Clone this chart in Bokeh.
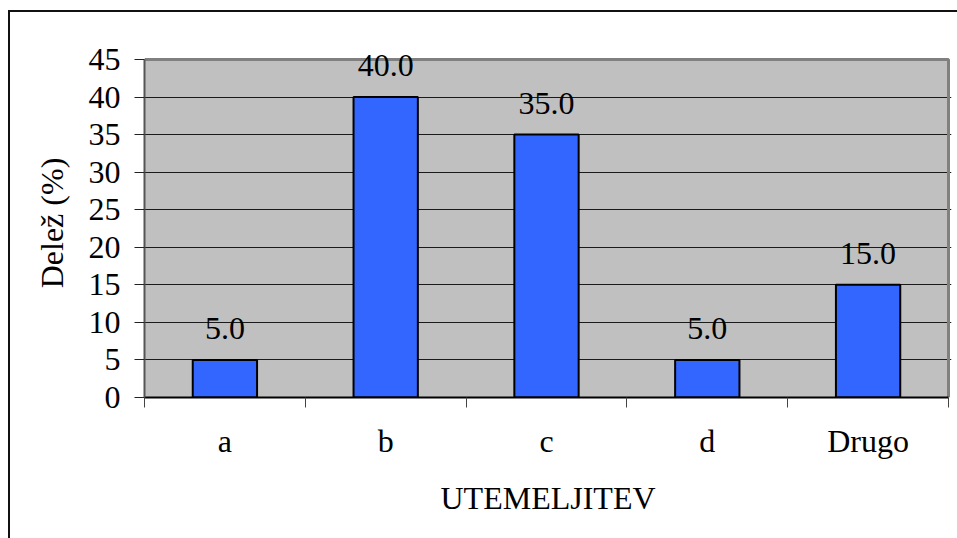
from bokeh.plotting import figure
from bokeh.models import FixedTicker, ColumnDataSource, Range1d, LabelSet, BoxAnnotation
from bokeh.embed import file_html
from bokeh.resources import INLINE

categories = ["a", "b", "c", "d", "Drugo"]
shares = [5.0, 40.0, 35.0, 5.0, 15.0]
y_ticks = [0, 5, 10, 15, 20, 25, 30, 35, 40, 45]

FONT = "Liberation Serif"
FS = "32px"
INK = "black"
PLOT_GRAY = "#C0C0C0"
EDGE_GRAY = "#808080"

n = len(categories)
y_max = y_ticks[-1]
centers = [i + 0.5 for i in range(n)]
src = ColumnDataSource(dict(
    x=centers,
    top=shares,
    label=[f"{v:.1f}" for v in shares],
))

# the visible frame is a little larger than the gray plot area so that
# value labels and the area's edge lines are not cut off
p = figure(
    width=949, height=528,
    x_range=Range1d(0, 5.0187),
    y_range=Range1d(0, 46.46),
    output_backend="svg", toolbar_location=None,
    min_border_left=134, min_border_right=8,
    min_border_top=36, min_border_bottom=143,
)
# outer chart frame (top and left edges visible)
p.margin = (10, 0, 0, 8)
p.styles = {"border-top": "2px solid #111111", "border-left": "2px solid #111111"}

p.background_fill_color = "white"
p.border_fill_color = "white"
p.outline_line_color = None

# gray plot area
p.add_layout(BoxAnnotation(left=0, right=n, bottom=0, top=y_max,
                           fill_color=PLOT_GRAY, fill_alpha=1,
                           line_color=None, level="image"))

# grid
p.xgrid.grid_line_color = None
p.ygrid.ticker = FixedTicker(ticks=y_ticks[1:-1])
p.ygrid.bounds = (0, n)
p.ygrid.grid_line_color = "#1a1a1a"
p.ygrid.grid_line_width = 1

# top and right edge of the plot area
p.line(x=[0, n, n], y=[y_max, y_max, 0], line_color=EDGE_GRAY, line_width=3)

# bars
p.vbar(x="x", top="top", bottom=0, width=0.4, source=src,
       fill_color="#3366FF", line_color="black", line_width=2)

# value labels above bars
p.add_layout(LabelSet(
    x="x", y="top", text="label", source=src,
    text_font=FONT, text_font_size=FS, text_color=INK,
    text_align="center", text_baseline="alphabetic", y_offset=21,
))

# y axis
p.yaxis.ticker = FixedTicker(ticks=y_ticks)
p.yaxis.bounds = (0, y_max)
p.yaxis.axis_label = "Delež (%)"
p.yaxis.axis_label_text_font = FONT
p.yaxis.axis_label_text_font_size = FS
p.yaxis.axis_label_text_font_style = "normal"
p.yaxis.axis_label_text_color = INK
p.yaxis.axis_label_standoff = 16
p.yaxis.major_label_text_font = FONT
p.yaxis.major_label_text_font_size = FS
p.yaxis.major_label_text_color = INK
p.yaxis.major_label_standoff = 14
p.yaxis.major_tick_out = 10
p.yaxis.major_tick_in = 0
p.yaxis.major_tick_line_color = "#222222"
p.yaxis.minor_tick_line_color = None
p.yaxis.axis_line_color = "#555555"
p.yaxis.axis_line_width = 2

# x axis: labels at category centres, ticks at category boundaries
p.xaxis.ticker = FixedTicker(ticks=centers, minor_ticks=list(range(n + 1)))
p.xaxis.bounds = (0, n)
p.xaxis.major_label_overrides = {c: name for c, name in zip(centers, categories)}
p.xaxis.axis_label = "UTEMELJITEV"
p.xaxis.axis_label_text_font = FONT
p.xaxis.axis_label_text_font_size = FS
p.xaxis.axis_label_text_font_style = "normal"
p.xaxis.axis_label_text_color = INK
p.xaxis.axis_label_standoff = 18
p.xaxis.major_label_text_font = FONT
p.xaxis.major_label_text_font_size = FS
p.xaxis.major_label_text_color = INK
p.xaxis.major_label_standoff = 15
p.xaxis.major_tick_out = 0
p.xaxis.major_tick_in = 0
p.xaxis.minor_tick_out = 10
p.xaxis.minor_tick_in = 0
p.xaxis.minor_tick_line_color = "#444444"
p.xaxis.axis_line_color = "black"
p.xaxis.axis_line_width = 2

open("out.html", "w").write(file_html(p, INLINE))
